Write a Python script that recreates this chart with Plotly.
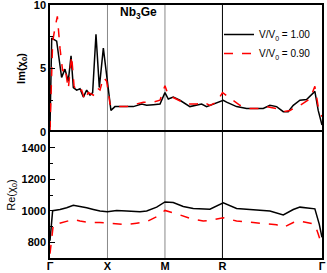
import plotly.graph_objects as go

# k-path coordinates of high-symmetry points
sym_k = [0.0, 0.5, 1.0, 1.5, 2.366]
sym_labels = ["Γ", "X", "M", "R", "Γ"]

# Im(chi0), V/V0 = 1.00
im_k_100 = [0.000, 0.015, 0.058, 0.101, 0.130, 0.159, 0.183, 0.203, 0.232, 0.261, 0.290, 0.319,
            0.348, 0.371, 0.400, 0.429, 0.464, 0.499, 0.530, 0.565, 0.667, 0.725, 0.797, 0.841,
            0.899, 0.957, 1.000, 1.029, 1.072, 1.130, 1.217, 1.275, 1.319, 1.362, 1.420, 1.507,
            1.536, 1.623, 1.710, 1.855, 1.913, 1.971, 2.029, 2.072, 2.116, 2.174, 2.232, 2.304,
            2.333, 2.366]
im_v_100 = [0.4, 7.4, 7.15, 4.3, 4.95, 4.0, 6.0, 3.5, 3.3, 3.4, 2.75, 3.3,
            2.9, 3.1, 7.7, 3.5, 6.6, 3.8, 1.7, 2.0, 2.0, 2.0, 2.2, 2.1,
            2.15, 2.2, 3.1, 2.6, 2.75, 2.5, 2.0, 2.1, 2.2, 2.0, 2.2, 2.5,
            2.35, 2.0, 1.85, 1.85, 2.1, 2.0, 1.6, 1.6, 2.1, 2.5, 2.55, 3.2,
            1.7, 0.55]

# Im(chi0), V/V0 = 0.90
im_k_090 = [0.000, 0.023, 0.043, 0.064, 0.087, 0.110, 0.130, 0.159, 0.188, 0.209, 0.232, 0.275,
            0.304, 0.333, 0.377, 0.406, 0.435, 0.464, 0.493, 0.522, 0.551, 0.667, 0.812, 0.899,
            0.957, 1.000, 1.029, 1.101, 1.188, 1.275, 1.333, 1.391, 1.449, 1.501, 1.551, 1.652,
            1.739, 1.826, 1.884, 1.971, 2.029, 2.087, 2.174, 2.261, 2.304, 2.333, 2.366]
im_v_090 = [0.15, 7.1, 8.2, 9.1, 6.6, 4.8, 5.1, 3.4, 6.0, 3.65, 3.1, 3.3,
            2.5, 3.1, 2.9, 3.5, 3.3, 4.3, 4.0, 2.2, 2.0, 2.0, 2.35, 2.35,
            2.5, 3.65, 2.9, 2.6, 2.2, 2.2, 2.35, 2.1, 2.35, 3.1, 2.75, 2.1,
            1.85, 1.85, 2.0, 1.85, 1.6, 1.7, 2.1, 2.6, 3.6, 2.0, 1.2]

# Re(chi0), V/V0 = 1.00
re_k_100 = [0.000, 0.023, 0.087, 0.145, 0.203, 0.261, 0.319, 0.377, 0.435, 0.499, 0.580, 0.667,
            0.783, 0.841, 0.928, 1.000, 1.072, 1.159, 1.246, 1.391, 1.507, 1.623, 1.768, 1.913,
            2.029, 2.116, 2.174, 2.304, 2.342, 2.366]
re_v_100 = [810, 1000, 1008, 1019, 1035, 1029, 1019, 1008, 998, 994, 1002, 998,
            994, 998, 1023, 1056, 1052, 1027, 1015, 1010, 1050, 1015, 1008, 998,
            974, 1008, 1023, 1012, 915, 831]

# Re(chi0), V/V0 = 0.90
re_k_090 = [0.000, 0.029, 0.072, 0.145, 0.203, 0.261, 0.348, 0.435, 0.522, 0.609, 0.667, 0.754,
            0.841, 0.928, 1.000, 1.101, 1.217, 1.333, 1.391, 1.507, 1.623, 1.768, 1.884, 1.971,
            2.029, 2.116, 2.174, 2.304, 2.333, 2.366]
re_v_090 = [727, 914, 918, 935, 945, 935, 925, 925, 921, 917, 912, 921,
            931, 962, 1002, 981, 952, 935, 938, 956, 935, 925, 919, 911,
            894, 925, 935, 914, 852, 779]

legend_names = ["V/V<sub>0</sub> = 1.00", "V/V<sub>0</sub> = 0.90"]
im_ticks = [0, 5, 10]
re_ticks = [800, 1000, 1200, 1400]

FONT = "Liberation Sans, Arial, sans-serif"
BLACK = "#000000"
RED = "#ff0000"

fig = go.Figure()
fig.add_trace(go.Scatter(x=im_k_100, y=im_v_100, mode="lines", name=legend_names[0],
                         line=dict(color=BLACK, width=1.5), xaxis="x", yaxis="y"))
fig.add_trace(go.Scatter(x=im_k_090, y=im_v_090, mode="lines", name=legend_names[1],
                         line=dict(color=RED, width=1.5, dash="dash"), xaxis="x", yaxis="y"))
fig.add_trace(go.Scatter(x=re_k_100, y=re_v_100, mode="lines", showlegend=False,
                         line=dict(color=BLACK, width=1.5), xaxis="x2", yaxis="y2"))
fig.add_trace(go.Scatter(x=re_k_090, y=re_v_090, mode="lines", showlegend=False,
                         line=dict(color=RED, width=1.5, dash="dash"), xaxis="x2", yaxis="y2"))

L, R, T, B = 50, 5, 5, 15
W, H = 327, 273
PW, PH = W - L - R, H - T - B
split = 126 / PH
yaxis_common = dict(showline=True, linecolor=BLACK, linewidth=1.5, mirror=True,
                    showgrid=False, zeroline=False)

fig.update_layout(
    width=W, height=H,
    margin=dict(l=L, r=R, t=T, b=B, autoexpand=False),
    paper_bgcolor="white", plot_bgcolor="white",
    font=dict(family=FONT, size=11, color=BLACK),
    xaxis=dict(domain=[0, 1], anchor="y", side="top", range=[0, sym_k[-1]], tickvals=sym_k,
               showticklabels=False, ticks="", showline=True, linecolor=BLACK,
               linewidth=1.5, mirror=False, showgrid=False, zeroline=False),
    yaxis=dict(domain=[split, 1], anchor="x", range=[0, 10], tickvals=im_ticks,
               ticks="inside", ticklen=5, tickwidth=1, tickcolor=BLACK,
               minor=dict(dtick=2.5, ticks="inside", ticklen=3, tickcolor=BLACK),
               tickfont=dict(size=11, family=FONT, weight="bold"),
               ticklabeloverflow="allow",
               title=dict(text="<b>Im(χ<sub>0</sub>)</b>", font=dict(size=11), standoff=6),
               **yaxis_common),
    xaxis2=dict(domain=[0, 1], anchor="y2", range=[0, sym_k[-1]], tickvals=sym_k,
                ticktext=sym_labels, ticks="", ticklen=0, ticklabeloverflow="allow",
                ticklabelstandoff=-3,
                tickfont=dict(size=11, family=FONT, weight="bold"),
                showline=True, linecolor=BLACK, linewidth=1.5, mirror=True,
                showgrid=False, zeroline=False),
    yaxis2=dict(domain=[0, split], anchor="x2", range=[700, 1500], tickvals=re_ticks,
                ticks="inside", ticklen=5, tickwidth=1, tickcolor=BLACK,
                minor=dict(dtick=100, ticks="inside", ticklen=3, tickcolor=BLACK),
                tickfont=dict(size=11, family=FONT, weight="bold"),
                ticklabeloverflow="allow",
                title=dict(text="Re(χ<sub>0</sub>)", font=dict(size=11), standoff=4),
                **yaxis_common),
    legend=dict(x=(219 - L) / PW, y=1 - (20 - T) / PH, xanchor="left", yanchor="top",
                bgcolor="rgba(0,0,0,0)", font=dict(size=10, family=FONT),
                tracegroupgap=0, itemwidth=30),
    showlegend=True,
)

# vertical lines at high-symmetry points
line_colors = ["#888888", "#888888", BLACK]
for kv, lc in zip(sym_k[1:4], line_colors):
    fig.add_shape(type="line", xref="x", yref="paper", x0=kv, x1=kv, y0=0, y1=1,
                  line=dict(color=lc, width=1), layer="below")

fig.add_annotation(text="<b>Nb<sub>3</sub>Ge</b>", xref="paper", yref="paper",
                   x=(138 - L) / PW, y=1 - (13 - T) / PH, xanchor="center", yanchor="middle",
                   showarrow=False, font=dict(size=12, family=FONT))

fig.write_html("out.html", config={"displayModeBar": False},
               post_script="document.body.style.margin='0';")
